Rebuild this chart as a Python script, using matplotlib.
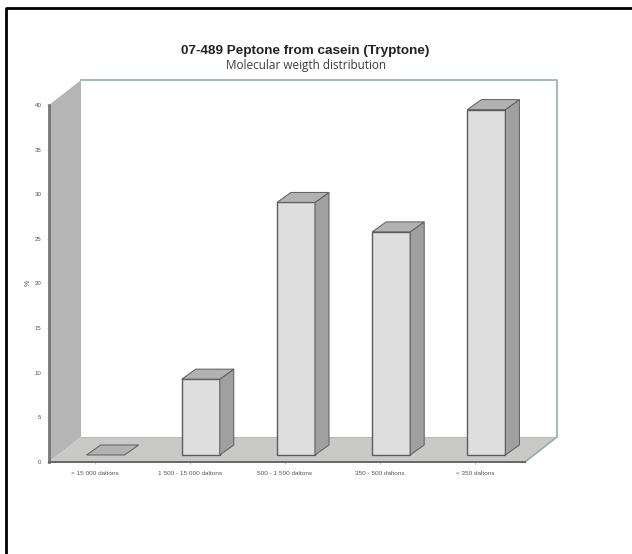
import matplotlib
matplotlib.use('Agg')
import matplotlib.pyplot as plt
from matplotlib.lines import Line2D

plt.rcParams['font.family'] = ['Liberation Sans', 'DejaVu Sans']

categories = ['> 15 000 daltons', '1 500 - 15 000 daltons', '500 - 1 500 daltons',
              '350 - 500 daltons', '< 350 daltons']
values = [0.0, 8.5, 28.3, 25.0, 38.7]
y_ticks = [0, 5, 10, 15, 20, 25, 30, 35, 40]

W, H = 632, 554
fig = plt.figure(figsize=(W / 100, H / 100), dpi=100, facecolor='white')

# front plane of the fake 3D box, in pixels
ax = fig.add_axes([49 / W, (H - 462) / H, 476 / W, 357 / H])
ax.set_xlim(0, 5)
ax.set_ylim(0, 40)
ax.patch.set_visible(False)

px_x = 5 / 476
px_y = 40 / 357
wall_dx, wall_dy = 32 * px_x, 25 * px_y
bar_dx, bar_dy = 14 * px_x, 10 * px_y
base = 7 * px_y
bar_w = 38 * px_x
bar_shift = 9 * px_x

# walls and floor
ax.fill([0, wall_dx, wall_dx, 0], [0, wall_dy, 40 + wall_dy, 40],
        fc='#b4b5b4', ec='none', clip_on=False, zorder=1)
ax.fill([0, 5, 5 + wall_dx, wall_dx], [0, 0, wall_dy, wall_dy],
        fc='#c9c9c8', ec='none', clip_on=False, zorder=1)
ax.plot([wall_dx, 5 + wall_dx, 5 + wall_dx, 5], [40 + wall_dy, 40 + wall_dy, wall_dy, 0],
        color='#8fb0a6', lw=1.2, clip_on=False, zorder=2)
ax.plot([wall_dx, 5 + wall_dx], [wall_dy, wall_dy], color='#b8b9b8', lw=0.8, clip_on=False, zorder=2)

# bars
for i, v in enumerate(values):
    x0 = i + 0.5 + bar_shift - bar_w / 2
    x1 = x0 + bar_w
    top = base + v
    if v > 0:
        ax.bar(x0, v, width=bar_w, bottom=base, align='edge', color='#dedede',
               edgecolor='#5c5c5c', lw=1.0, zorder=3, clip_on=False)
        ax.fill([x1, x1 + bar_dx, x1 + bar_dx, x1], [base, base + bar_dy, top + bar_dy, top],
                fc='#a0a0a0', ec='#5c5c5c', lw=0.7, zorder=3, clip_on=False)
    ax.fill([x0, x1, x1 + bar_dx, x0 + bar_dx], [top, top, top + bar_dy, top + bar_dy],
            fc='#b2b2b2', ec='#5c5c5c', lw=0.7, zorder=4, clip_on=False)

# axes
for side in ['top', 'right']:
    ax.spines[side].set_visible(False)
ax.spines['left'].set_color('#777777')
ax.spines['left'].set_linewidth(2)
ax.spines['bottom'].set_color('#666666')
ax.spines['bottom'].set_linewidth(1.4)
ax.spines['left'].set_zorder(5)
ax.spines['bottom'].set_zorder(5)

ax.set_xticks([i + 0.5 - 2 * px_x for i in range(len(categories))])
ax.set_xticklabels(categories, fontsize=4.6, color='#555555')
ax.set_yticks(y_ticks)
ax.set_yticklabels([str(t) for t in y_ticks], fontsize=4.4, color='#555555')
ax.tick_params(axis='both', length=1.5, width=0.4, color='#999999', pad=5)
ax.tick_params(axis='y', pad=4)

fig.text(28 / W, 1 - 283 / H, '%', fontsize=5, rotation=90, ha='center', va='center', color='#555555')
fig.text(305 / W, 1 - 51 / H, '07-489 Peptone from casein (Tryptone)', fontsize=9.7,
         fontweight='bold', ha='center', va='center', color='#222222')
fig.text(306 / W, 1 - 66 / H, 'Molecular weigth distribution', fontsize=8.5,
         family=['Open Sans', 'DejaVu Sans'], ha='center', va='center', color='#3c3c3c')

# black frame of the screenshot, left and top only
fig.add_artist(Line2D([6 / W, 6 / W, 1], [0, 1 - 8 / H, 1 - 8 / H], color='black', lw=2))

fig.savefig('out.png', dpi=100, facecolor='white')
